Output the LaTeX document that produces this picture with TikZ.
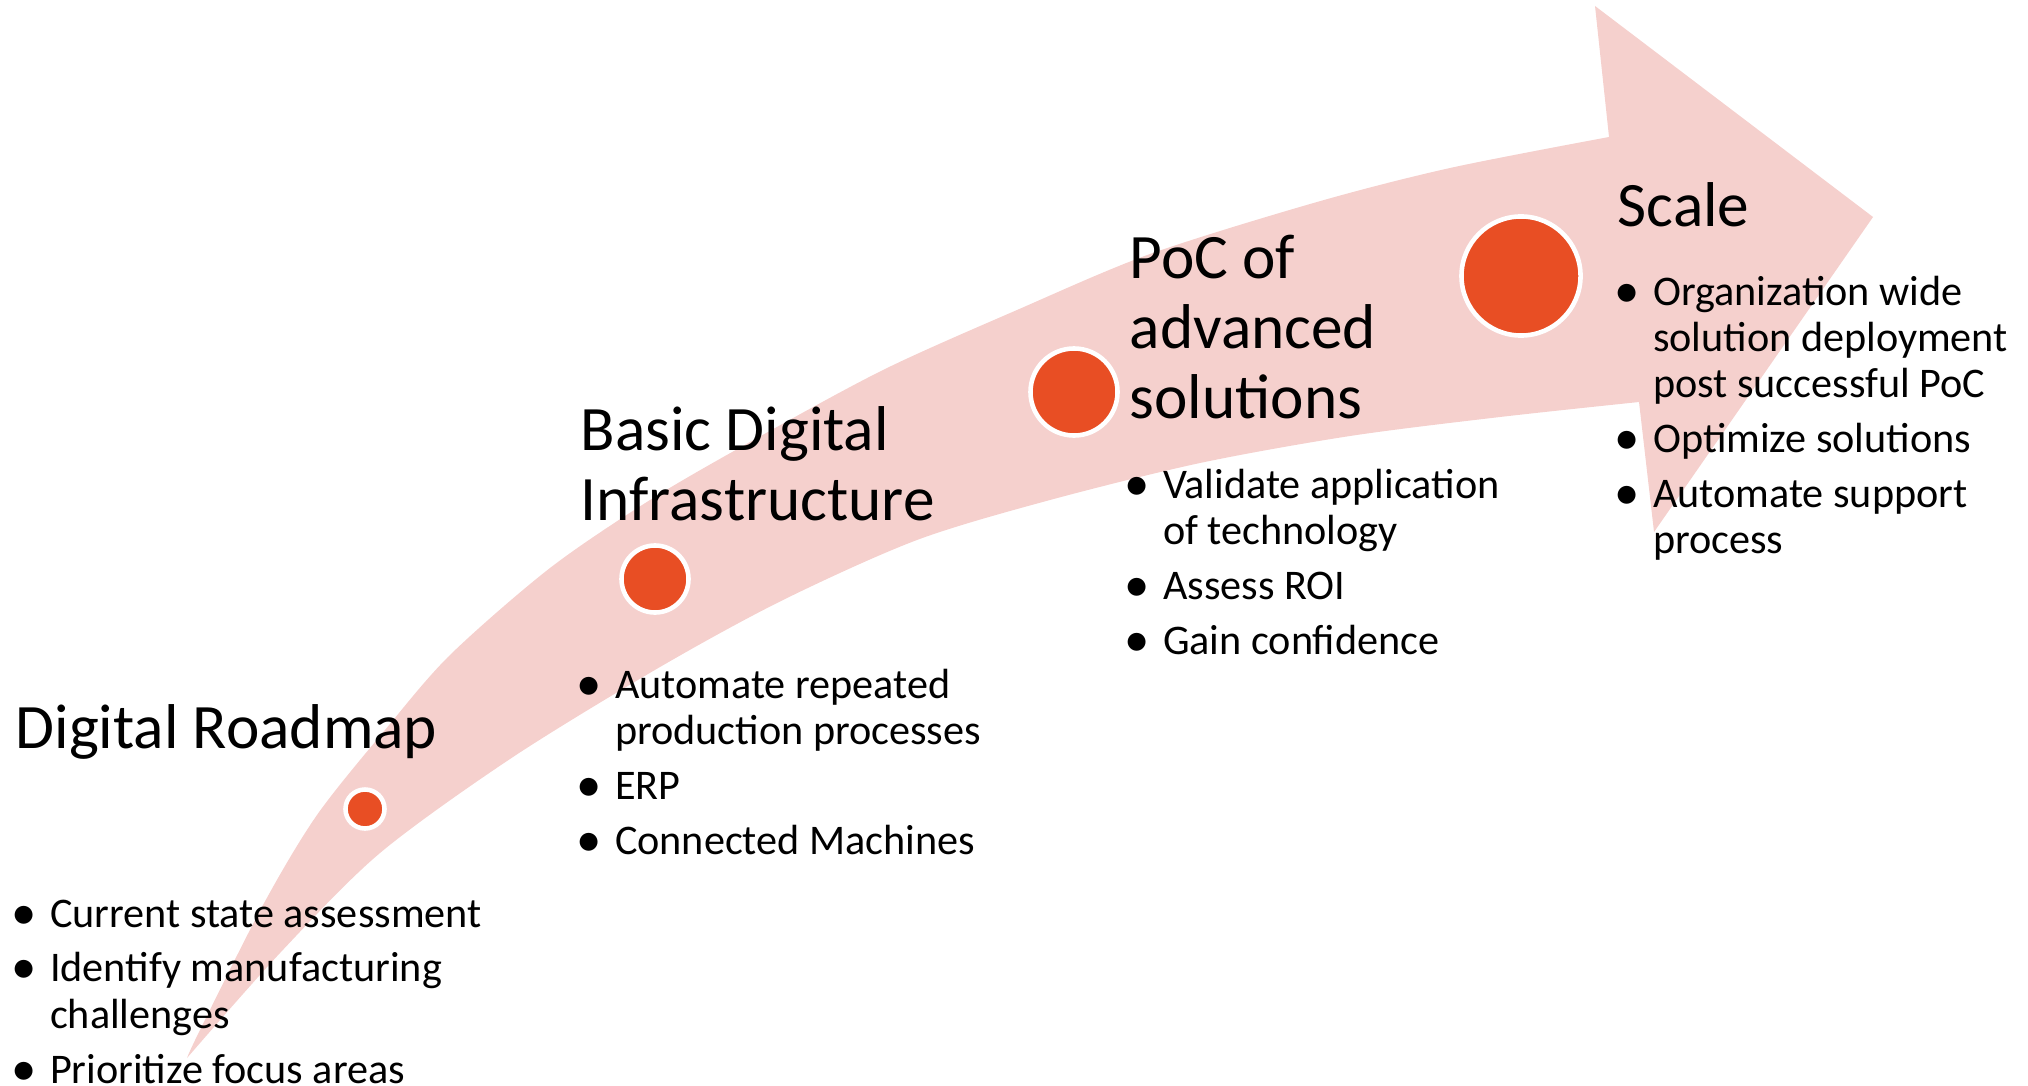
\documentclass[tikz,border=0pt]{standalone}
\usepackage{fontspec}
\usepackage{graphicx}
\setmainfont{Carlito}
\usetikzlibrary{positioning}
\definecolor{bandpink}{RGB}{245,208,205}
\definecolor{dotred}{RGB}{232,78,36}
\newcommand{\bl}{\makebox[0pt]{\raisebox{-0.6pt}{\scalebox{1.2}{\textbullet}}}}

\begin{document}
\begin{tikzpicture}[x=0.01cm, y=-0.01cm,
  title/.style={anchor=base west, inner sep=0pt, font=\fontsize{18}{20}\selectfont},
  pts/.style={anchor=base west, inner sep=0pt, font=\fontsize{12}{13.2}\selectfont},
  dot/.style={circle, fill=dotred, draw=white, line width=1.3pt, inner sep=0pt}]
  \useasboundingbox (0,0) rectangle (2028,1085);

  % the curved arrow
  \fill[bandpink] plot[smooth] coordinates {(187,1058) (200,1030) (263,905) (317,815) (385,730)
      (450,655) (550,568) (650,500) (750,442) (883,370) (1017,310) (1150,254) (1317,202)
      (1450,168) (1609,137)}
    -- (1595,6) -- (1873,217) -- (1654,532)
    -- plot[smooth] coordinates {(1639,402) (1500,417) (1350,436) (1200,463) (1050,500)
      (917,540) (783,600) (660,667) (513,757) (380,853) (280,953) (187,1058)} -- cycle;

  % stage dots
  \node[dot, minimum size=0.39cm] (d1) at (365,809) {};
  \node[dot, minimum size=0.67cm] (d2) at (655,579) {};
  \node[dot, minimum size=0.87cm] (d3) at (1074,392) {};
  \node[dot, minimum size=1.19cm] (d4) at (1521,276) {};

  % stage titles
  \node[title] (roadmap) at (15,748) {Digital Roadmap};
  \node[title] (infra) at (580,450) {\begin{tabular}[t]{@{}l@{}}Basic Digital\\Infrastructure\end{tabular}};
  \node[title] (poc) at (1129,278) {\begin{tabular}[t]{@{}l@{}}PoC of\\advanced\\solutions\end{tabular}};
  \node[title] (scale) at (1617,226) {Scale};

  % bullet points
  \node[pts] (roadmap-pts) at (23,927) {\begin{tabular}[t]{@{}c@{\hspace{7.5pt}}l@{}}
    \bl & Current state assessment\\[2.4pt]
    \bl & Identify manufacturing\\ & challenges\\[2.4pt]
    \bl & Prioritize focus areas\end{tabular}};
  \node[pts] (infra-pts) at (588,698) {\begin{tabular}[t]{@{}c@{\hspace{7.5pt}}l@{}}
    \bl & Automate repeated\\ & production processes\\[2.4pt]
    \bl & ERP\\[2.4pt]
    \bl & Connected Machines\end{tabular}};
  \node[pts] (poc-pts) at (1136,498) {\begin{tabular}[t]{@{}c@{\hspace{7.5pt}}l@{}}
    \bl & Validate application\\ & of technology\\[2.4pt]
    \bl & Assess ROI\\[2.4pt]
    \bl & Gain confidence\end{tabular}};
  \node[pts] (scale-pts) at (1626,305) {\begin{tabular}[t]{@{}c@{\hspace{7.5pt}}l@{}}
    \bl & Organization wide\\ & solution deployment\\ & post successful PoC\\[2.4pt]
    \bl & Optimize solutions\\[2.4pt]
    \bl & Automate support\\ & process\end{tabular}};
\end{tikzpicture}
\end{document}
